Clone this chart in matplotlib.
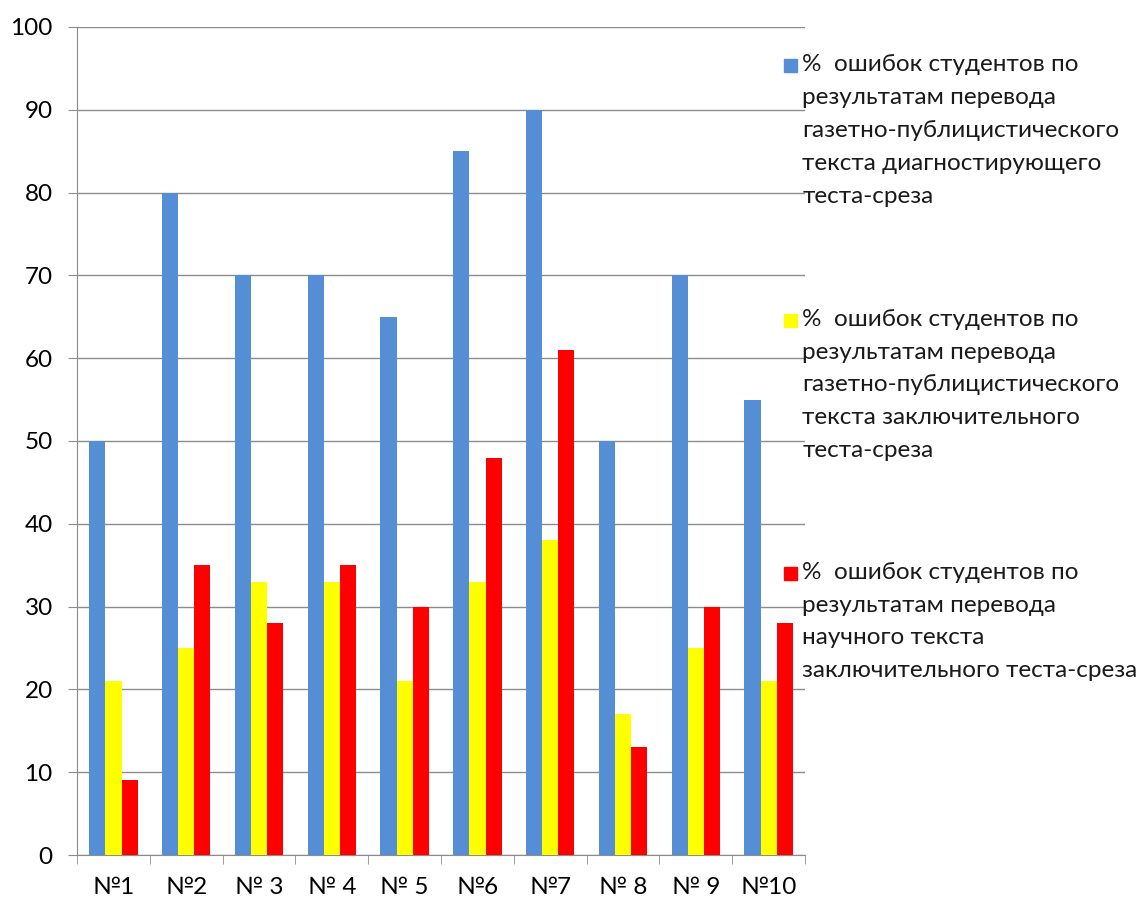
import numpy as np
import matplotlib.pyplot as plt
from matplotlib.patches import Rectangle

plt.rcParams['font.family'] = ['Lato', 'DejaVu Sans']

categories = ['№1', '№2', '№ 3', '№ 4', '№ 5', '№6', '№7', '№ 8', '№ 9', '№10']
diag_news = [50, 80, 70, 70, 65, 85, 90, 50, 70, 55]
final_news = [21, 25, 33, 33, 21, 33, 38, 17, 25, 21]
final_sci = [9, 35, 28, 35, 30, 48, 61, 13, 30, 28]

labels = [
    '%  ошибок студентов по\nрезультатам перевода\nгазетно-публицистического\nтекста диагностирующего\nтеста-среза',
    '%  ошибок студентов по\nрезультатам перевода\nгазетно-публицистического\nтекста заключительного\nтеста-среза',
    '%  ошибок студентов по\nрезультатам перевода\nнаучного текста\nзаключительного теста-среза',
]
colors = ['#558ed5', '#ffff00', '#ff0000']

fig = plt.figure(figsize=(11.38, 9), dpi=100)
ax = fig.add_axes([0.0677, 0.05, 0.6397, 0.92])

x = np.arange(len(categories))
w = 0.222
for i, (vals, c) in enumerate(zip([diag_news, final_news, final_sci], colors)):
    ax.bar(x + (i - 1) * w, vals, w, color=c, zorder=3)

ax.set_xlim(-0.5, len(categories) - 0.5)
ax.set_ylim(0, 100)
ax.set_yticks(range(0, 101, 10))
ax.yaxis.grid(True, color='#8c8c8c', linewidth=1)
ax.set_axisbelow(True)

ax.set_xticks(x)
ax.set_xticklabels(categories, fontsize=17.5)
ax.set_xticks(np.arange(-0.5, len(categories)), minor=True)
ax.tick_params(axis='x', which='major', length=0, pad=16)
ax.tick_params(axis='x', which='minor', length=6.5, color='#8c8c8c', direction='out')
ax.tick_params(axis='y', length=6.5, color='#8c8c8c', labelsize=17.5, pad=11)

for s in ['top', 'right']:
    ax.spines[s].set_visible(False)
for s in ['left', 'bottom']:
    ax.spines[s].set_color('#8c8c8c')

# legend drawn by hand: swatch + wrapped text block
tops = [0.928, 0.645, 0.364]
for lab, c, ty in zip(labels, colors, tops):
    fig.patches.append(Rectangle((0.689, ty - 0.008), 0.0115, 0.0145,
                                 transform=fig.transFigure, color=c))
    fig.text(0.705, ty + 0.012, lab, fontsize=17.5, va='top', ha='left',
             linespacing=1.7, color='#1a1a1a')

fig.savefig('out.png', dpi=100)
